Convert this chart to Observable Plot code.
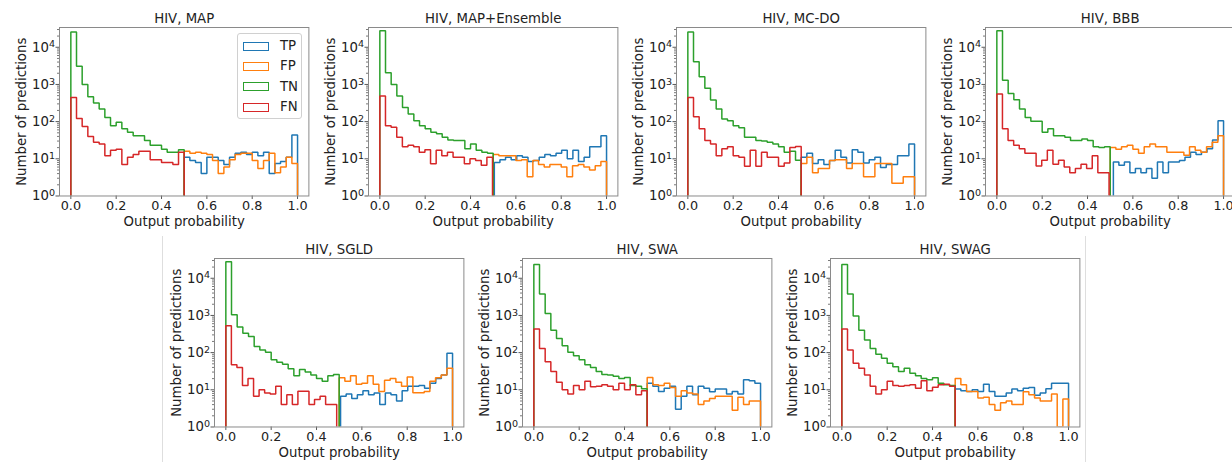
<!DOCTYPE html>
<html><head><meta charset="utf-8">
<script src="https://cdn.jsdelivr.net/npm/d3@7"></script>
<script src="https://cdn.jsdelivr.net/npm/@observablehq/plot@0.6"></script>
<style>
body{margin:0;background:#fff;}
#root{position:relative;width:1232px;height:462px;overflow:hidden;font-family:"DejaVu Sans",sans-serif;background:#fff;}
.panel{position:absolute;}
.sep{position:absolute;width:1px;background:#dedede;}
.legend{position:absolute;border:1px solid #d0d0d0;border-radius:3px;background:rgba(255,255,255,0.85);box-sizing:border-box;}
.legend .row{position:absolute;left:5px;height:10px;display:flex;align-items:center;}
.legend .sw{width:24px;height:7px;border:1.6px solid;box-sizing:content-box;}
.legend .lb{position:absolute;left:37px;font-size:13.3px;color:#222;line-height:10px;}
</style></head><body><div id="root"></div>
<script>
// ---- data ----
const series = ["TP", "FP", "TN", "FN"];
const colors = ["#1f77b4", "#ff7f0e", "#2ca02c", "#d62728"];
const titles = ["HIV, MAP", "HIV, MAP+Ensemble", "HIV, MC-DO", "HIV, BBB", "HIV, SGLD", "HIV, SWA", "HIV, SWAG"];
const xTicks = [0, 0.2, 0.4, 0.6, 0.8, 1.0];
const yTicks = [1, 10, 100, 1000, 10000];
const xLabel = "Output probability";
const yLabel = "Number of predictions";

// bin ranges (20 bins per class histogram)
const tnRange = [0, 0.5];
const fpRange = [0.5, 1.0];
const fnEnd = [0.5, 0.497, 0.5, 0.495, 0.489, 0.5, 0.5];
const tpStart = [0.5, 0.505, 0.5, 0.514, 0.506, 0.5, 0.5];

// counts per bin
const tpMAP = [11,9,8,4,11,11,9,7,11,14,15,13,15,12,15,4,7.5,8.5,11,44];
const fpMAP = [16,14,15,14,13,9,4,6,9.5,13,14,14,9,5.5,9,14,4.2,6,11,7.5];
const tnMAP = [25700,3100,1000,465,315,218,130,78,96,64,52,42,42,31,23,23,18,15,15,17.5];
const fnMAP = [447,122,74,40,28,25,12,17,18,7,11,13,16,16,9.5,9.5,8,8,7,15];

const tpEns = [8,9.5,11,9.5,12,11,8.5,9,11,13,12,14,17,10,17,8.5,11,21,21,42];
const fpEns = [13,12,12,12,9,9.5,3.3,9,7,6,7,7,6,3.3,6.5,7,6,5,6.5,8.5];
const tnEns = [27700,2070,1000,490,240,160,106,78,64,52,47,38,32,31,31,18.7,25,17,15,14];
const fnEns = [490,78,71,38,21,23,21,15,17.5,7.4,17,12,15,11,11,7.4,10,9,6.7,11];

const tpMCDO = [11,14,7.5,9.5,7,9,17,11,7.7,17.5,15,7.7,9.5,11,5.8,7,7,12,12,25];
const fpMCDO = [7.5,11,4.2,5.5,5.5,9,9.5,9.5,5.5,7.5,7.5,3.3,3.3,7.5,7.5,7.5,2.2,2.2,3.3,3.3];
const tnMCDO = [25700,4050,1600,790,380,218,118,106,78,68,38,38,31,30,28,25,21,15,16,9.1];
const fnMCDO = [447,136,64,31,25,12,18.7,21,12,11,6.3,17,6.3,15,11,11,6.3,7.7,20,21.5];

const tpBBB = [8.2,6.7,8.2,4.2,5.5,4.2,5.5,3,8.2,4.2,8.2,8.2,9,11,15,13,15,18.7,32,106];
const fpBBB = [20,18,21,23,18,14,21,25,21,21,15,15,15,12.5,21,17,15,21,28,42];
const tnBBB = [27700,1300,570,390,218,130,102,102,52,64,42,42,38,31,31,34,31,21,20,21];
const fnBBB = [550,64,31,23,18.7,14,14,6.4,9.1,17,7.1,9.1,6,4.2,5.5,7.1,5.5,12,4.2,4.2];

const tpSGLD = [6.7,7.7,5.8,7.4,9.5,7.4,8.2,4,8.2,7.4,5,9.5,12.5,12.5,13,11,15,20,25,96];
const fpSGLD = [21,17,24,14,15,24,14,9,18,20,16,12.5,22,8.3,8.3,9,17,21,25,38];
const tnSGLD = [27700,1050,490,330,270,145,118,102,64,55,49,37,24,35,30,25,20,17,24,26];
const fnSGLD = [525,47,40,13,20,6.7,10,8.2,7.7,12.5,4,7.4,4,9.1,9.1,4,5.5,6.7,4,4];

const tpSWA = [15,12.5,9,11,12.5,3,6.7,12.5,7.4,12.5,11,8.8,10.5,10.5,7.7,9,7.7,18.7,17.5,15];
const fpSWA = [21.5,13.7,13,15,11.5,6.7,9.5,8.2,7.7,4,5,5.8,6.7,6.7,6.7,2.8,6.3,4,5,5];
const tnSWA = [23600,3800,1120,400,240,154,102,83,64,47,40,31,26,25,23,20,21.5,13,12.5,10.7];
const fnSWA = [430,130,57,31,16,10,7.7,13,10,17,12,12.5,13.7,12.5,10,15,10,13.7,7.4,9.5];

const tpSWAG = [10.5,9.5,9,10,9,14,9,6.7,6.7,8.2,10.5,9.5,11,11.5,7.1,8.2,10.7,15,15,15];
const fpSWAG = [20,13.7,9,9,6,6.3,4,2.8,4.5,5,4,4,8.8,7.4,6,5,5,7.7,0,5.7];
const tnSWAG = [23600,3800,970,400,218,130,90,71,52,42,31,38,28,24,20,18.7,21,15,13.7,13];
const fnSWAG = [430,118,52,38,25,12.5,7.7,10,17,13,12.5,13,13.7,11,17.5,9.5,11.7,13.7,14,12.5];

const tpAll = [tpMAP, tpEns, tpMCDO, tpBBB, tpSGLD, tpSWA, tpSWAG];
const fpAll = [fpMAP, fpEns, fpMCDO, fpBBB, fpSGLD, fpSWA, fpSWAG];
const tnAll = [tnMAP, tnEns, tnMCDO, tnBBB, tnSGLD, tnSWA, tnSWAG];
const fnAll = [fnMAP, fnEns, fnMCDO, fnBBB, fnSGLD, fnSWA, fnSWAG];

// ---- layout ----
const frameLeft = [59, 367.7, 676, 984.6, 214, 522, 830.4];
const frameTop = [27, 27, 27, 27, 258, 258, 258];
const W = 249.4, H = 168.5, ML = 60, MT = 30, MR = 15, MB = 40;

const root = document.getElementById("root");
const minorTicks = [];
for (let e = 0; e <= 4; e++) for (let k = 2; k <= 9; k++) { const v = k * 10 ** e; if (v < 34000) minorTicks.push(v); }

function steps(counts, lo, hi, name) {
  const n = counts.length, w = (hi - lo) / n;
  const pts = [{x: lo, y: 1, s: name}];
  counts.forEach((c, i) => {
    const v = Math.max(c, 1);
    pts.push({x: lo + i * w, y: v, s: name}, {x: lo + (i + 1) * w, y: v, s: name});
  });
  pts.push({x: hi, y: 1, s: name});
  return pts;
}

titles.forEach((title, p) => {
  const ranges = [[tpStart[p], 1.0], fpRange, tnRange, [0, fnEnd[p]]];
  const data = [tpAll[p], fpAll[p], tnAll[p], fnAll[p]];
  const lines = series.map((s, i) => Plot.line(steps(data[i], ranges[i][0], ranges[i][1], s), {
    x: "x", y: "y", stroke: colors[i], strokeWidth: 1.5, strokeLinejoin: "miter", clip: true
  }));
  const chart = Plot.plot({
    width: ML + W + MR, height: MT + H + MB,
    marginLeft: ML, marginTop: MT, marginRight: MR, marginBottom: MB,
    x: {domain: [-0.05, 1.05]},
    y: {type: "log", domain: [1, 34000]},
    style: {fontFamily: "DejaVu Sans", fontSize: "12.8px", color: "#222", background: "transparent", overflow: "visible"},
    marks: [
      Plot.axisX({ticks: xTicks, tickFormat: d3.format(".1f"), tickSize: 3.5, tickPadding: 1, label: null, stroke: "#555"}),
      Plot.axisY({ticks: minorTicks, tickSize: 2, tickFormat: () => "", label: null, stroke: "#777"}),
      Plot.axisY({ticks: yTicks, tickFormat: d => "10^" + Math.round(Math.log10(d)), tickSize: 3.5, tickPadding: 1, label: null, stroke: "#555", fontSize: 13.3}),
      ...lines,
      Plot.frame({stroke: "#8a8a8a", strokeWidth: 1}),
      Plot.text([title], {text: d => d, frameAnchor: "top", lineAnchor: "middle", textAnchor: "middle", dy: -8.5, fontSize: 13.3, fill: "#222"}),
      Plot.text([xLabel], {text: d => d, frameAnchor: "bottom", lineAnchor: "middle", textAnchor: "middle", dy: 25.5, fontSize: 13.3, fill: "#222"}),
      Plot.text([yLabel], {text: d => d, frameAnchor: "left", lineAnchor: "middle", textAnchor: "middle", rotate: -90, dx: -38, fontSize: 13.3, fill: "#222"})
    ]
  });
  // render "10^k" tick labels as 10 with a raised superscript, like mathtext
  d3.select(chart).selectAll("text").each(function() {
    const t = this.textContent;
    const m = /^10\^(\d)$/.exec(t);
    if (!m) return;
    const sel = d3.select(this);
    sel.text(null);
    sel.append("tspan").text("10");
    sel.append("tspan").attr("dy", "-0.42em").attr("font-size", "0.72em").text(m[1]);
  });
  chart.classList.add("panel");
  chart.style.left = (frameLeft[p] - ML) + "px";
  chart.style.top = (frameTop[p] - MT) + "px";
  root.appendChild(chart);
});

// separators around the second row
[162, 1085].forEach(x => {
  const d = document.createElement("div");
  d.className = "sep";
  d.style.left = x + "px"; d.style.top = "236px"; d.style.height = "226px";
  root.appendChild(d);
});

// legend (first panel)
const leg = document.createElement("div");
leg.className = "legend";
leg.style.left = "237px"; leg.style.top = "33px"; leg.style.width = "65px"; leg.style.height = "86px";
series.forEach((s, i) => {
  const row = document.createElement("div");
  row.className = "row";
  row.style.top = (7 + i * 20.4) + "px";
  const sw = document.createElement("div");
  sw.className = "sw"; sw.style.borderColor = colors[i];
  const lb = document.createElement("div");
  lb.className = "lb"; lb.textContent = s;
  row.appendChild(sw); row.appendChild(lb);
  leg.appendChild(row);
});
root.appendChild(leg);
</script>
</body></html>
